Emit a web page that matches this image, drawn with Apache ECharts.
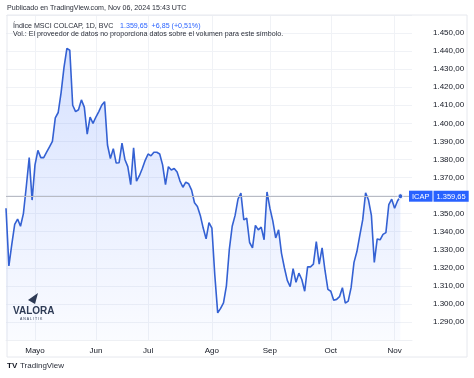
<!DOCTYPE html>
<html>
<head>
<meta charset="utf-8">
<script src="https://cdn.jsdelivr.net/npm/echarts@6/dist/echarts.min.js"></script>
<style>
  html, body { margin: 0; padding: 0; background: #ffffff; }
  #chart { width: 474px; height: 378px; }
</style>
</head>
<body>
<div id="chart"></div>
<script>
// ---- Data ----
// Daily closes of the MSCI COLCAP index, 17 Apr 2024 – 6 Nov 2024 (BVC trading days)
const values = [
  1353, 1321, 1333, 1344, 1347, 1343, 1350, 1365, 1381, 1357.5,
  1377, 1385, 1381, 1381, 1384, 1387, 1390, 1403, 1406, 1417,
  1431, 1441.5, 1440.5, 1410, 1406.5, 1407.5, 1413, 1409, 1394, 1403.5,
  1400, 1403.5, 1406.5, 1410, 1412, 1388, 1380.5, 1386, 1378, 1378.2,
  1389, 1380, 1376, 1366, 1386.5, 1368, 1371, 1375, 1379.5, 1383,
  1382, 1384, 1384, 1383, 1377, 1366, 1376, 1374.2, 1375, 1373,
  1368, 1364.6, 1367.4, 1366.5, 1363, 1356, 1354, 1349, 1342, 1336,
  1345, 1342, 1316, 1295, 1297.5, 1300.5, 1310, 1330, 1343, 1349,
  1358, 1361.3, 1346.5, 1347.5, 1334, 1331, 1343.5, 1341, 1342.5, 1335.5,
  1362, 1353, 1346, 1336.5, 1341, 1328, 1320, 1313, 1309.5, 1319.5,
  1312, 1317, 1313.5, 1307, 1320.5, 1320.5, 1322, 1334.5, 1322, 1331,
  1318.5, 1308, 1307, 1302, 1302.5, 1304, 1309, 1300.4, 1301.5, 1309,
  1323, 1329, 1338, 1346.5, 1361.5, 1357.5, 1349, 1323, 1336, 1335.5,
  1338.5, 1339.5, 1355, 1358, 1353, 1357, 1359.65
];
// Colombian market holidays in the period
const holidays = ['2024-05-01','2024-05-13','2024-06-03','2024-06-10','2024-07-01',
                  '2024-08-07','2024-08-19','2024-10-14','2024-11-04'];
const startDate = '2024-04-17';
const padDays = 4; // empty space to the right of the last bar, as on TradingView
const monthLabels = {5:'Mayo', 6:'Jun', 7:'Jul', 8:'Ago', 9:'Sep', 10:'Oct', 11:'Nov'};
const yTicks = { min: 1280, max: 1460, step: 10, hidden: [1280, 1360, 1460] };
const lastPrice = 1359.65;
const headerTitle = 'Índice MSCI COLCAP, 1D, BVC';
const headerQuote = '1.359,65  +6,85 (+0,51%)';
const headerVol = 'Vol.: El proveedor de datos no proporciona datos sobre el volumen para este símbolo.';
const published = 'Publicado en TradingView.com, Nov 06, 2024 15:43 UTC';

// ---- Build trading-day categories ----
function tradingDays(start, count) {
  const out = [];
  const p = start.split('-').map(Number);
  let t = Date.UTC(p[0], p[1] - 1, p[2]);
  while (out.length < count) {
    const d = new Date(t);
    const s = d.toISOString().slice(0, 10);
    const wd = d.getUTCDay();
    if (wd !== 0 && wd !== 6 && holidays.indexOf(s) < 0) out.push(s);
    t += 86400000;
  }
  return out;
}
const categories = tradingDays(startDate, values.length + padDays);
const monthOf = s => Number(s.slice(5, 7));
const isMonthStart = idx => idx > 0 && monthOf(categories[idx]) !== monthOf(categories[idx - 1]);

function fmtPrice(v) {
  const fixed = v.toFixed(2).split('.');
  const ip = fixed[0];
  const th = ip.length > 3 ? ip.slice(0, ip.length - 3) + '.' + ip.slice(-3) : ip;
  return th + ',' + fixed[1];
}

const BLUE = '#2962ff';
const LINE = '#3461d3';
const TXT = '#131722';
const FONT = '"Liberation Sans", Arial, sans-serif';

const chart = echarts.init(document.getElementById('chart'), null, { renderer: 'canvas' });

const option = {
  animation: false,
  backgroundColor: '#ffffff',
  textStyle: { fontFamily: FONT },
  grid: { left: 6, right: 62, top: 15, bottom: 38, containLabel: false },
  xAxis: {
    type: 'category',
    data: categories,
    boundaryGap: false,
    axisLine: { show: true, lineStyle: { color: '#eef0f4' } },
    axisTick: { show: false },
    axisLabel: {
      interval: (idx) => isMonthStart(idx),
      formatter: (v) => monthLabels[monthOf(v)] || '',
      color: TXT, fontSize: 8, margin: 7, fontFamily: FONT
    },
    splitLine: {
      show: true,
      interval: (idx) => isMonthStart(idx),
      lineStyle: { color: '#f0f2f6', width: 1 }
    }
  },
  yAxis: {
    type: 'value',
    position: 'right',
    min: yTicks.min, max: yTicks.max, interval: yTicks.step,
    axisLine: { show: false },
    axisTick: { show: false },
    axisLabel: {
      formatter: (v) => yTicks.hidden.indexOf(v) >= 0 ? '' : fmtPrice(v),
      color: TXT, fontSize: 8, margin: 21, fontFamily: FONT
    },
    splitLine: { show: true, lineStyle: { color: '#f0f2f6', width: 1 } }
  },
  series: [{
    type: 'line',
    data: values,
    showSymbol: false,
    smooth: false,
    lineStyle: { color: LINE, width: 1.6 },
    itemStyle: { color: LINE },
    areaStyle: {
      origin: 'start',
      color: new echarts.graphic.LinearGradient(0, 0, 0, 1, [
        { offset: 0, color: 'rgba(41,98,255,0.27)' },
        { offset: 1, color: 'rgba(41,98,255,0.03)' }
      ])
    },
    markLine: {
      silent: true,
      symbol: 'none',
      lineStyle: { color: '#b8bbc4', width: 1, type: 'solid' },
      data: [{ yAxis: lastPrice }],
      label: {
        show: true,
        position: 'end',
        distance: -3,
        formatter: '{a|ICAP}{g| }{b|' + fmtPrice(lastPrice) + '}',
        rich: {
          a: { backgroundColor: BLUE, color: '#fff', fontSize: 7.5, padding: [2, 3, 1, 3], fontFamily: FONT },
          g: { width: 1, fontSize: 7.5 },
          b: { backgroundColor: BLUE, color: '#fff', fontSize: 7.5, padding: [2, 3, 1, 3], fontFamily: FONT }
        }
      }
    },
    markPoint: {
      silent: true,
      symbol: 'circle',
      symbolSize: 5,
      itemStyle: { color: LINE, borderColor: '#ffffff', borderWidth: 1 },
      label: { show: false },
      data: [{ coord: [categories[values.length - 1], lastPrice] }]
    }
  }],
  graphic: [
    { type: 'rect', shape: { x: 7, y: 15, width: 460, height: 342 }, style: { fill: 'none', stroke: '#e6e8ee', lineWidth: 1 }, silent: true, z: 1 },
    { type: 'text', left: 7, top: 5, z: 100, style: { text: published, fill: '#2a2e39', fontSize: 7.1, fontFamily: FONT } },
    { type: 'text', left: 13, top: 20, z: 100, style: {
        text: '{n|' + headerTitle + '}  {b|' + headerQuote + '}',
        rich: { n: { fill: '#2a2e39', fontSize: 7.1, fontFamily: FONT }, b: { fill: BLUE, fontSize: 7.1, fontFamily: FONT } }
      } },
    { type: 'text', left: 13, top: 31, z: 100, style: { text: headerVol, fill: '#2a2e39', fontSize: 7.1, fontFamily: FONT } },
    // VALORA ANALITIK watermark
    { type: 'polygon', z: 100, shape: { points: [[28, 300], [38, 293], [35, 304]] }, style: { fill: '#2e3b55' } },
    { type: 'text', left: 13, top: 306, z: 100, style: { text: 'VALORA', fill: '#2e3b55', fontSize: 10, fontWeight: 'bold', fontFamily: FONT } },
    { type: 'text', left: 20, top: 317, z: 100, style: { text: 'A N A L I T I K', fill: '#2e3b55', fontSize: 3.5, fontFamily: FONT } },
    // TradingView footer
    { type: 'text', left: 7, top: 362, z: 100, style: { text: 'TV', fill: TXT, fontSize: 8, fontWeight: 900, fontFamily: FONT } },
    { type: 'text', left: 20, top: 362, z: 100, style: { text: 'TradingView', fill: '#2a2e39', fontSize: 8, fontFamily: FONT } }
  ]
};
chart.setOption(option);
</script>
</body>
</html>
